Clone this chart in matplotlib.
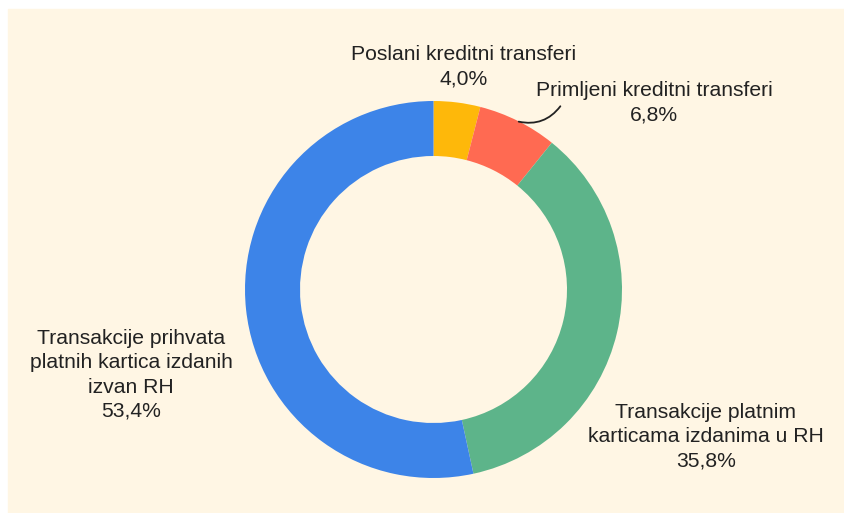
import matplotlib.pyplot as plt
from matplotlib.patches import Rectangle

# podaci
labels = [
    "Poslani kreditni transferi",
    "Primljeni kreditni transferi",
    "Transakcije platnim\nkarticama izdanima u RH",
    "Transakcije prihvata\nplatnih kartica izdanih\nizvan RH",
]
shares = [4.0, 6.8, 35.8, 53.4]
colors = ["#FEB80A", "#FF6A52", "#5DB48A", "#3D84E8"]

# polozaj teksta (piksel slike)
label_pos = [(464, 67), (654, 103), (706, 437), (131, 375)]

W, H = 845, 513
fig = plt.figure(figsize=(W / 100, H / 100), dpi=100)
ax = fig.add_axes([0, 0, 1, 1])

ax.add_patch(Rectangle((8, 0), W - 8, H - 9, color="#FFF6E4", zorder=0))

cx, cy, r = 433.5, H - 289.5, 188.5
ax.pie(shares, colors=colors, startangle=90, counterclock=False,
       center=(cx, cy), radius=r, frame=True,
       wedgeprops=dict(width=55, linewidth=0))
ax.set_xlim(0, W)
ax.set_ylim(0, H)
ax.set_aspect("equal")
ax.axis("off")

for lab, val, (x, y) in zip(labels, shares, label_pos):
    txt = lab + "\n" + f"{val:.1f}".replace(".", ",") + "%"
    ax.text(x, H - y, txt, ha="center", va="center", fontsize=15.2,
            family="Liberation Sans", color="#222222", linespacing=1.34)

# spojnica za primljene transfere
ax.annotate("", xy=(516, H - 121), xytext=(562, H - 104),
            arrowprops=dict(arrowstyle="-", color="#222222", lw=1.3,
                            connectionstyle="arc3,rad=-0.35"))

fig.savefig("out.png", dpi=100)
